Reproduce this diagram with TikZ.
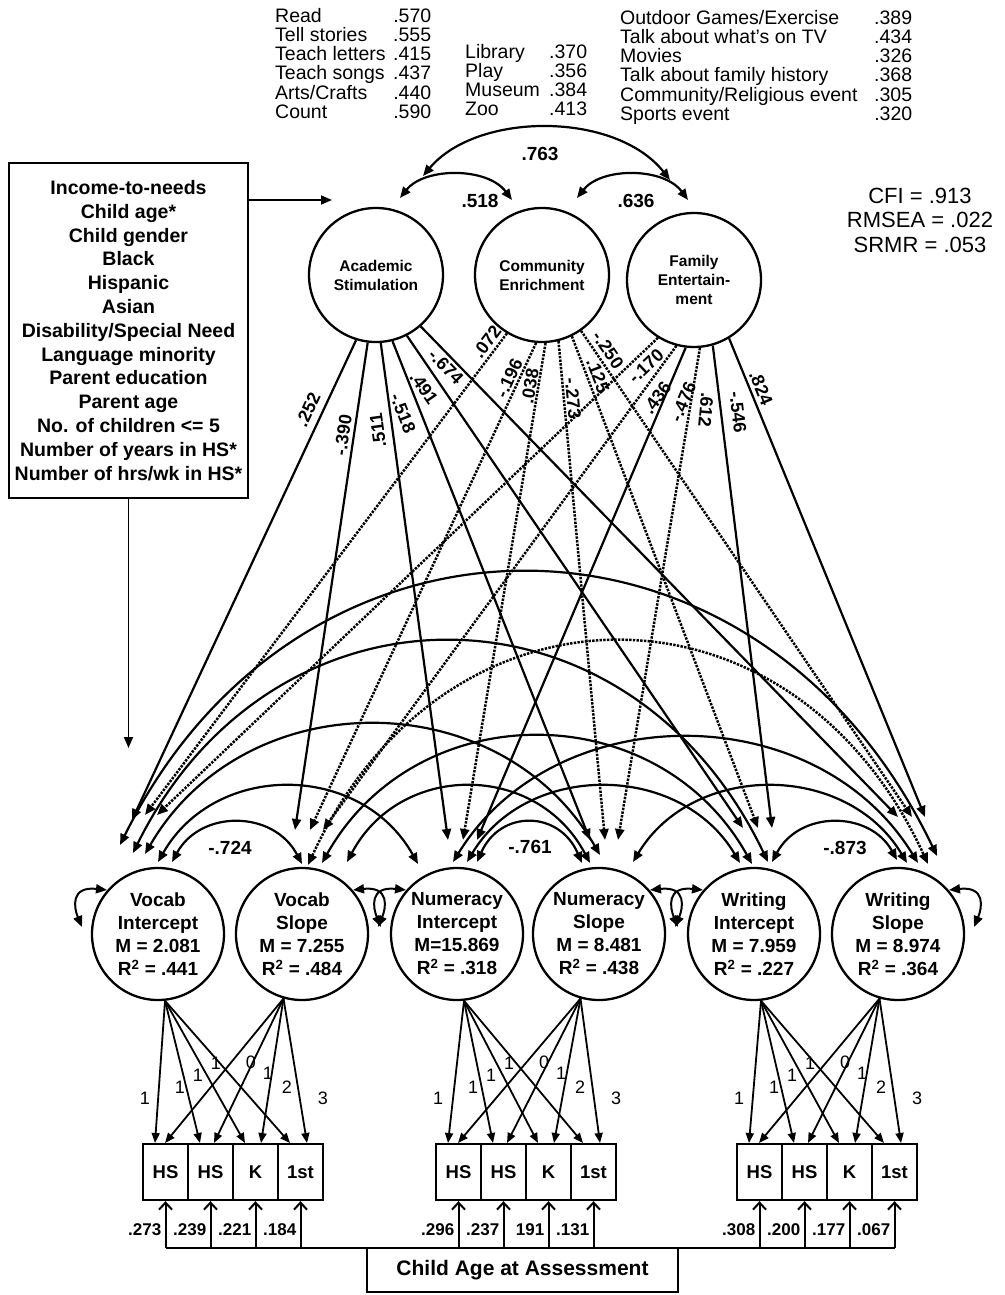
\documentclass[tikz,border=0pt]{standalone}
\usepackage{fontspec}
\setmainfont{Liberation Sans}
\usetikzlibrary{arrows.meta,calc}
\newcommand\rowitem[3]{\makebox[#1][l]{#2\hfill\ #3}}
\newcommand\covar[7]{%
  \pgfmathsetmacro\covh{(#7-(#4+#6)/8)/0.75}%
  \pgfmathsetmacro\cova{#3+0.22*(#5-#3)}%
  \pgfmathsetmacro\covb{#5-0.22*(#5-#3)}%
  \coordinate (#1s) at (#3,#4);
  \coordinate (#1e) at (#5,#6);
  \draw[covarc,#2] (#1s) .. controls (\cova,\covh) and (\covb,\covh) .. (#1e);}
\newcommand\leftloop[1]{\draw[selfloop] ($(#1.center)+(-51,-44)$) .. controls ($(#1.center)+(-88,-48)$) and ($(#1.center)+(-84,-26)$) .. ($(#1.center)+(-76,-7)$);}
\newcommand\rightloop[1]{\draw[selfloop] ($(#1.center)+(51,-44)$) .. controls ($(#1.center)+(88,-48)$) and ($(#1.center)+(84,-26)$) .. ($(#1.center)+(76,-7)$);}
\newcommand\measgroup[5]{%
  \foreach \kk/\bx in {1/HS,2/HS,3/K,4/1st}{
    \node[obs] (#1b\kk) at ({#2+45*\kk-22.5},1172) {\bx};
  }
  \foreach \kk/\sd in {1/22,2/26,3/28,4/29}{
    \coordinate (#1t\kk i) at ({#2+45*\kk-45+12},1143);
    \coordinate (#1t\kk s) at ({#2+45*\kk-45+\sd},1143);
    \draw[loadarrow] (#3.-84) -- (#1t\kk i);
    \draw[loadarrow] (#4.-106) -- (#1t\kk s);
  }
  \foreach \dx/\yy/\bx [count=\cc] in {2/1098/1,37/1087/1,55/1075/1,73/1063/1,108/1062/0,125/1073/1,144/1087/2,180/1098/3}{
    \node[llab] (#1ll\cc) at ({#2+\dx},\yy) {\bx};
  }
  \foreach \kk in {1,2,3,4}{
    \coordinate (#1a\kk) at ({#2+45*\kk-22.5},1248);
    \draw[agearrow] (#1a\kk) -- (#1b\kk);
  }
  \foreach \lab [count=\kk] in {#5}{
    \node[alab] (#1al\kk) at ({#2+45*\kk-22.5-4},1230) {\lab};
  }
}
\tikzset{
  ftri/.tip={Triangle[length=11pt,width=9pt]},
  stri/.tip={Triangle[length=10pt,width=8pt]},
  tlat/.style={circle,draw,line width=2.3pt,minimum size=134pt,inner sep=0pt,align=center,font=\bfseries\fontsize{15.5}{19}\selectfont},
  blat/.style={circle,draw,line width=2.3pt,minimum size=132pt,inner sep=0pt,align=center,font=\bfseries\fontsize{19}{23}\selectfont},
  obs/.style={rectangle,draw,line width=2.3pt,minimum width=45pt,minimum height=56pt,inner sep=0pt,font=\bfseries\fontsize{18.5}{20}\selectfont},
  patharrow/.style={line width=2.2pt,-ftri},
  dotln/.style={line width=2.5pt,dash pattern=on 2.4pt off 1.3pt},
  covarc/.style={line width=2.2pt,ftri-ftri},
  selfloop/.style={line width=2pt,ftri-ftri},
  loadarrow/.style={line width=1.8pt,-stri},
  thinarrow/.style={line width=1.8pt,-ftri},
  agearrow/.style={line width=2pt,-{Straight Barb[length=7pt,width=13pt]}},
  plab/.style={inner sep=0pt,font=\bfseries\fontsize{18}{18}\selectfont},
  clab/.style={inner sep=0pt,font=\bfseries\fontsize{19}{19}\selectfont},
  llab/.style={inner sep=0pt,font=\fontsize{18}{18}\selectfont},
  alab/.style={inner sep=0pt,anchor=east,font=\bfseries\fontsize{17}{17}\selectfont},
  toptxt/.style={inner sep=0pt,anchor=north west,align=left,font=\fontsize{19.5}{19.2}\selectfont},
}
\begin{document}
\begin{tikzpicture}[x=1pt,y=-1pt]
\useasboundingbox (0,0) rectangle (1004,1295);
\fill[white] (0,0) rectangle (1004,1295);

% indicator lists
\node[toptxt] (acitems) at (275,8) {\rowitem{156pt}{Read}{.570}\\\rowitem{156pt}{Tell stories}{.555}\\\rowitem{156pt}{Teach letters}{.415}\\\rowitem{156pt}{Teach songs}{.437}\\\rowitem{156pt}{Arts/Crafts}{.440}\\\rowitem{156pt}{Count}{.590}};
\node[toptxt] (ceitems) at (465,44) {\rowitem{122pt}{Library}{.370}\\\rowitem{122pt}{Play}{.356}\\\rowitem{122pt}{Museum}{.384}\\\rowitem{122pt}{Zoo}{.413}};
\node[toptxt] (feitems) at (620,10) {\rowitem{292pt}{Outdoor Games/Exercise}{.389}\\\rowitem{292pt}{Talk about what’s on TV}{.434}\\\rowitem{292pt}{Movies}{.326}\\\rowitem{292pt}{Talk about family history}{.368}\\\rowitem{292pt}{Community/Religious event}{.305}\\\rowitem{292pt}{Sports event}{.320}};

% fit indices
\node[inner sep=0pt,align=center,font=\fontsize{22}{24.5}\selectfont] (fit) at (920,220) {CFI = .913\\RMSEA = .022\\SRMR = .053};

% top latents
\node[tlat] (as) at (376,275) {Academic\\Stimulation};
\node[tlat] (ce) at (542,275) {Community\\Enrichment};
\node[tlat] (fe) at (694,280) {Family\\Entertain-\\ment};

% correlations among top latents
\covar{k763}{}{423}{176}{670}{180}{128}
\covar{k518}{}{400}{198}{512}{200}{175}
\covar{k636}{}{577}{198}{688}{200}{175}
\node[clab] (l763) at (540,154) {.763};
\node[clab] (l518) at (480,201) {.518};
\node[clab] (l636) at (636,201) {.636};

% covariates box
\node[draw,line width=1.8pt,minimum width=239pt,minimum height=335pt,inner sep=0pt,align=center,font=\bfseries\fontsize{19.5}{23.8}\selectfont] (cv) at (128.5,330.5)
 {Income-to-needs\\Child age*\\Child gender\\Black\\Hispanic\\Asian\\Disability/Special Need\\Language minority\\Parent education\\Parent age\\No. of children <= 5\\Number of years in HS*\\Number of hrs/wk in HS*};
\coordinate (cvt) at (332,200);
\coordinate (cvb) at (128.5,748);
\draw[thinarrow] (cv.east |- cvt) -- (cvt);
\draw[thinarrow] (cv.south) -- (cvb);

% bottom latents
\node[blat] (vi) at (158,934) {Vocab\\Intercept\\M = 2.081\\R\textsuperscript{2} = .441};
\node[blat] (vs) at (302,934) {Vocab\\Slope\\M = 7.255\\R\textsuperscript{2} = .484};
\node[blat] (ni) at (457,934) {Numeracy\\Intercept\\M=15.869\\R\textsuperscript{2} = .318};
\node[blat] (ns) at (599,934) {Numeracy\\Slope\\M = 8.481\\R\textsuperscript{2} = .438};
\node[blat] (wi) at (754,934) {Writing\\Intercept\\M = 7.959\\R\textsuperscript{2} = .227};
\node[blat] (ws) at (898,934) {Writing\\Slope\\M = 8.974\\R\textsuperscript{2} = .364};

% arrow tips of structural paths
\coordinate (vi-a) at (132,820); \coordinate (vi-c) at (145,815); \coordinate (vi-f) at (157,815);
\coordinate (vs-a) at (295,830); \coordinate (vs-c) at (310,830); \coordinate (vs-f) at (323,830);
\coordinate (ni-a) at (448,840); \coordinate (ni-c) at (463,840); \coordinate (ni-f) at (477,840);
\coordinate (ns-a) at (590,840); \coordinate (ns-c) at (605,840); \coordinate (ns-f) at (618,840);
\coordinate (wi-a) at (743,828); \coordinate (wi-c) at (758,828); \coordinate (wi-f) at (772,828);
\coordinate (ws-a) at (898,817); \coordinate (ws-c) at (912,817); \coordinate (ws-f) at (925,817);

% Academic Stimulation paths
\draw[patharrow] (as.-107) -- (vi-a);
\draw[patharrow] (as.-97.5) -- (vs-a);
\draw[patharrow] (as.-86.6) -- (ni-a);
\draw[patharrow] (as.-76.6) -- (ns-a);
\draw[patharrow] (as.-63.4) -- (wi-a);
\draw[patharrow] (as.-49.8) -- (ws-a);
% Community Enrichment paths
\draw[patharrow,dotln] (ce.-121) -- (vi-c);
\draw[patharrow,dotln] (ce.-95.9) -- (vs-c);
\draw[patharrow,dotln] (ce.-87.5) -- (ni-c);
\draw[patharrow,dotln] (ce.-76.8) -- (ns-c);
\draw[patharrow,dotln] (ce.-64.5) -- (wi-c);
\draw[patharrow,dotln] (ce.-55.4) -- (ws-c);
% Family Entertainment paths
\draw[patharrow,dotln] (fe.-122.5) -- (vi-f);
\draw[patharrow,dotln] (fe.-105.8) -- (vs-f);
\draw[patharrow] (fe.-97.7) -- (ni-f);
\draw[patharrow,dotln] (fe.-85) -- (ns-f);
\draw[patharrow] (fe.-74.2) -- (wi-f);
\draw[patharrow] (fe.-59.9) -- (ws-f);

% path labels
\node[plab,rotate=64.9] (p1) at (308,410) {.252};
\node[plab,rotate=81.6] (p2) at (343,435) {-.390};
\node[plab,rotate=97.8] (p3) at (378,430) {.511};
\node[plab,rotate=-68.3] (p4) at (403,413) {-.518};
\node[plab,rotate=-55.6] (p5) at (424,388) {.491};
\node[plab,rotate=-45.7] (p6) at (446,367) {-.674};
\node[plab,rotate=53.1] (p7) at (487,342) {.072};
\node[plab,rotate=65.2] (p8) at (509,378) {-.196};
\node[plab,rotate=80.6] (p9) at (530,386) {.038};
\node[plab,rotate=-84.6] (p10) at (573,398) {-.273};
\node[plab,rotate=-69.2] (p11) at (598,376) {.125};
\node[plab,rotate=-55.7] (p12) at (608,350) {-.250};
\node[plab,rotate=43.7] (p13) at (646,366) {-.170};
\node[plab,rotate=53.9] (p14) at (657,398) {.436};
\node[plab,rotate=67.1] (p15) at (683,402) {-.476};
\node[plab,rotate=-95] (p16) at (706,410) {.612};
\node[plab,rotate=-83] (p17) at (738,412) {-.546};
\node[plab,rotate=-67.6] (p18) at (761,388) {.824};

% covariances among growth factors
\covar{c1}{}{172}{862}{302}{864}{823}
\covar{c2}{}{158}{862}{418}{864}{787}
\covar{c3}{}{145}{854}{600}{855}{725}
\covar{c4}{}{133}{853}{768}{862}{642}
\covar{c5}{}{120}{845}{937}{856}{573}
\covar{c6}{}{347}{862}{590}{863}{787}
\covar{c7}{}{322}{863}{752}{864}{737}
\covar{c8}{dotln}{308}{865}{928}{864}{642}
\covar{c9}{}{477}{862}{582}{863}{823}
\covar{c10}{}{467}{862}{740}{863}{787}
\covar{c11}{}{453}{862}{918}{863}{738}
\covar{c12}{}{633}{862}{907}{863}{787}
\covar{c13}{}{772}{862}{897}{860}{823}
\node[clab] (r724) at (230,848) {-.724};
\node[clab] (r761) at (530,847) {-.761};
\node[clab] (r873) at (845,848) {-.873};

% residual variances
\leftloop{vi}
\rightloop{vs}
\leftloop{ni}
\rightloop{ns}
\leftloop{wi}
\rightloop{ws}

% measurement parts
\measgroup{v}{143}{vi}{vs}{.273,.239,.221,.184}
\measgroup{n}{436}{ni}{ns}{.296,.237,191,.131}
\measgroup{w}{737}{wi}{ws}{.308,.200,.177,.067}

\draw[line width=2pt] (va1) -- (wa4);
\node[draw,fill=white,line width=2.3pt,minimum width=311pt,minimum height=44pt,inner sep=0pt,font=\bfseries\fontsize{21}{21}\selectfont] (ca) at (522.5,1270) {Child Age at Assessment};
\end{tikzpicture}
\end{document}
